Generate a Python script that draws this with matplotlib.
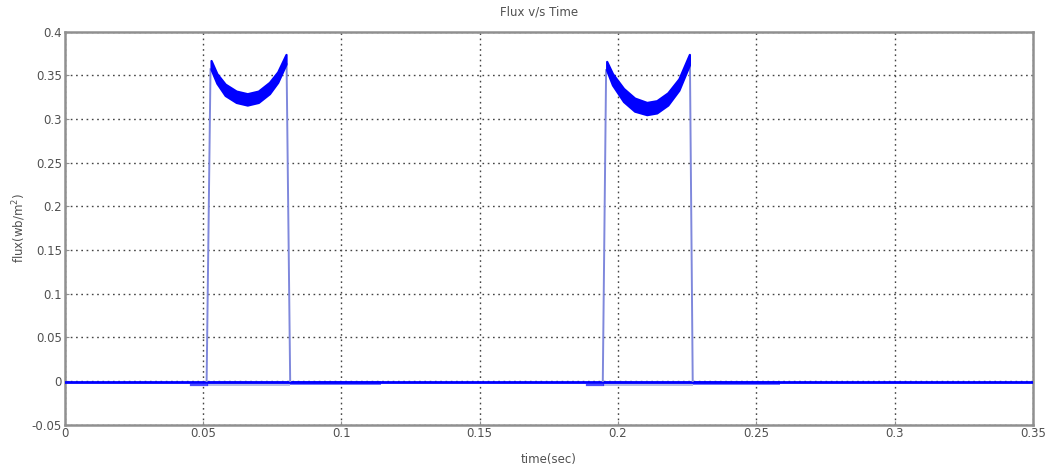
import matplotlib
matplotlib.use("Agg")
import matplotlib.pyplot as plt
import numpy as np

# pulse 1 top band (time, upper edge, lower edge)
p1_t = [0.0529, 0.055, 0.058, 0.062, 0.066, 0.070, 0.074, 0.077, 0.0800]
p1_hi = [0.367, 0.352, 0.340, 0.332, 0.329, 0.332, 0.342, 0.354, 0.374]
p1_lo = [0.357, 0.341, 0.327, 0.319, 0.316, 0.319, 0.329, 0.342, 0.363]

# pulse 2 top band
p2_t = [0.1959, 0.198, 0.202, 0.206, 0.2104, 0.214, 0.218, 0.222, 0.2258]
p2_hi = [0.366, 0.352, 0.335, 0.324, 0.319, 0.321, 0.330, 0.346, 0.374]
p2_lo = [0.356, 0.339, 0.320, 0.309, 0.305, 0.307, 0.316, 0.333, 0.362]

# edges of the pulses: (t_bottom, t_top) for rise and fall
rise_t = [(0.0513, 0.0527), (0.1945, 0.1957)]
fall_t = [(0.0802, 0.0815), (0.2260, 0.2270)]

# baseline segments
base_t = [0.0, 0.35]
base_y = [-0.001, -0.001]
dip_spans = [(0.0455, 0.0513), (0.1887, 0.1945)]      # small dip before rise
after_spans = [(0.0815, 0.1145), (0.2270, 0.2586)]    # darker band after fall
light_spans = [(0.0513, 0.0815), (0.1945, 0.2270)]    # pale band under pulse

blue = "#0000ff"
pale = "#7f88dc"
txt = "#505050"

fig = plt.figure(figsize=(10.47, 4.69), dpi=100)
ax = fig.add_axes([64.7 / 1047, 1 - 424.7 / 469, (1033 - 64.7) / 1047, (424.7 - 31.7) / 469])

# baseline
ax.plot(base_t, base_y, color=blue, lw=2.0, zorder=3)
for a, b in light_spans:
    ax.fill_between([a, b], [0.0, 0.0], [-0.006, -0.006], color=pale, alpha=0.55, lw=0, zorder=2)
for a, b in dip_spans:
    ax.plot([a, b], [-0.004, -0.004], color=blue, lw=1.6, alpha=0.7, zorder=3)
for a, b in after_spans:
    ax.fill_between([a, b], [0.0, 0.0], [-0.004, -0.004], color=blue, alpha=0.55, lw=0, zorder=2)

# rise / fall edges
for (tb, tt), top in zip(rise_t, [p1_lo[0], p2_lo[0]]):
    ax.plot([tb, tt], [0.0, top], color=pale, lw=1.4, zorder=3)
for (tt, tb), top in zip(fall_t, [p1_lo[-1], p2_lo[-1]]):
    ax.plot([tt, tb], [top, 0.0], color=pale, lw=1.4, zorder=3)

# oscillation bands at pulse tops
for t, hi, lo in [(p1_t, p1_hi, p1_lo), (p2_t, p2_hi, p2_lo)]:
    ax.fill_between(t, hi, lo, color=blue, lw=1.6, edgecolor=blue, zorder=4)

ax.set_xlim(0, 0.35)
ax.set_ylim(-0.05, 0.4)
ax.set_xticks(np.arange(0, 0.351, 0.05))
ax.set_yticks(np.arange(-0.05, 0.401, 0.05))
ax.set_xticklabels(["0", "0.05", "0.1", "0.15", "0.2", "0.25", "0.3", "0.35"])
ax.set_yticklabels(["-0.05", "0", "0.05", "0.1", "0.15", "0.2", "0.25", "0.3", "0.35", "0.4"])

ax.grid(True, color="#444444", linestyle=(0, (1.2, 2.6)), linewidth=1.0)
ax.set_axisbelow(True)
for s in ax.spines.values():
    s.set_color("#909090")
    s.set_linewidth(1.8)
ax.tick_params(direction="in", length=3, color="#909090", labelsize=8.5,
               labelcolor=txt, pad=2)

ax.set_title("Flux v/s Time", fontsize=8.5, color=txt, pad=12)
ax.title.set_position((0.49, 1.0))
ax.set_xlabel("time(sec)", fontsize=8.5, color=txt, labelpad=9)
ax.set_ylabel("flux(wb/m$^2$)", fontsize=8.5, color=txt, labelpad=3)

fig.savefig("out.png", dpi=100)
